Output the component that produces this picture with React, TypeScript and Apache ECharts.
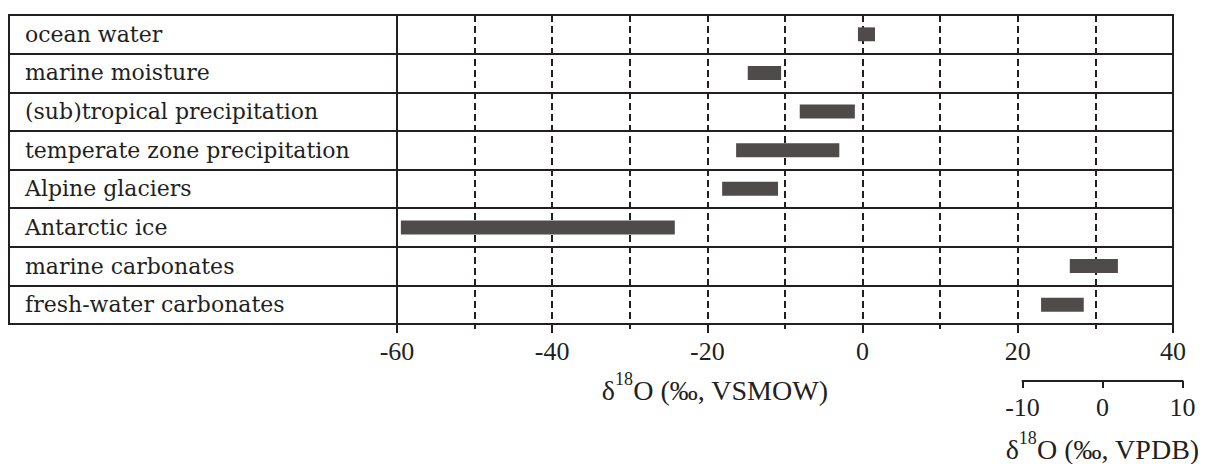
import React, { useEffect, useRef } from "react";
import * as echarts from "echarts";

const categories = [
  "ocean water",
  "marine moisture",
  "(sub)tropical precipitation",
  "temperate zone precipitation",
  "Alpine glaciers",
  "Antarctic ice",
  "marine carbonates",
  "fresh-water carbonates",
];
const rangeLow = [-0.6, -14.8, -8.1, -16.3, -18.1, -59.5, 26.7, 23.0];
const rangeHigh = [1.6, -10.5, -1.0, -3.0, -10.9, -24.2, 32.9, 28.5];

const vsmowMin = -60;
const vsmowMax = 40;
const vsmowStep = 20;
const vpdbMin = -10;
const vpdbMax = 10;
const vpdbStep = 10;

const INK = "#231f20";
const BAR = "#4f4b4a";
const SERIF = "Liberation Serif";

export default function App() {
  const ref = useRef<HTMLDivElement>(null);

  useEffect(() => {
    if (!ref.current) return;
    const chart = echarts.init(ref.current, undefined, { renderer: "svg" });

    const nameRich = {
      a: { fontFamily: SERIF, fontSize: 28, color: INK },
      sup: { fontFamily: SERIF, fontSize: 18, color: INK, padding: [0, 0, 22, 0] },
    };

    const option: any = {
      animation: false,
      backgroundColor: "#ffffff",
      grid: [
        { left: 9, top: 15, width: 388, height: 309, show: true, borderColor: INK, borderWidth: 2, backgroundColor: "transparent" },
        { left: 397, top: 15, width: 776, height: 309, show: true, borderColor: INK, borderWidth: 2, backgroundColor: "transparent" },
        { left: 1022.5, top: 378, width: 160, height: 9, show: false },
      ],
      xAxis: [
        { gridIndex: 0, type: "value", min: 0, max: 1, show: false },
        {
          gridIndex: 1,
          type: "value",
          min: vsmowMin,
          max: vsmowMax,
          interval: vsmowStep,
          position: "bottom",
          axisLine: { show: true, lineStyle: { color: INK, width: 2 } },
          axisTick: { show: true, length: 9, lineStyle: { color: INK, width: 2 } },
          minorTick: { show: true, splitNumber: 2, length: 5, lineStyle: { color: INK, width: 2 } },
          splitLine: { show: true, lineStyle: { color: INK, width: 2, type: [7, 4] } },
          minorSplitLine: { show: true, lineStyle: { color: INK, width: 2, type: [7, 4] } },
          axisLabel: { margin: 14, fontFamily: SERIF, fontSize: 26, color: INK },
          name: "{a|δ}{sup|18}{a|O (‰, VSMOW)}",
          nameLocation: "middle",
          nameGap: 46,
          nameTextStyle: { rich: nameRich, padding: [0, 140, 0, 0] },
        },
        {
          gridIndex: 2,
          type: "value",
          min: vpdbMin,
          max: vpdbMax,
          interval: vpdbStep,
          position: "bottom",
          axisLine: { show: true, lineStyle: { color: INK, width: 2 } },
          axisTick: { show: true, length: 7, lineStyle: { color: INK, width: 2 } },
          splitLine: { show: false },
          axisLabel: { margin: 13, fontFamily: SERIF, fontSize: 26, color: INK },
          name: "{a|δ}{sup|18}{a|O (‰, VPDB)}",
          nameLocation: "middle",
          nameGap: 48,
          nameTextStyle: { rich: nameRich },
        },
      ],
      yAxis: [
        {
          gridIndex: 0,
          type: "category",
          data: categories,
          inverse: true,
          axisLine: { show: false },
          axisTick: { show: false },
          splitLine: { show: true, lineStyle: { color: INK, width: 2 } },
          axisLabel: { inside: true, margin: 16, fontFamily: "DejaVu Serif", fontSize: 22, color: INK },
        },
        {
          gridIndex: 1,
          type: "category",
          data: categories,
          inverse: true,
          axisLine: { show: false },
          axisTick: { show: false },
          axisLabel: { show: false },
          splitLine: { show: true, lineStyle: { color: INK, width: 2 } },
        },
        { gridIndex: 2, type: "value", show: false },
      ],
      series: [
        {
          type: "custom",
          xAxisIndex: 1,
          yAxisIndex: 1,
          encode: { x: [0, 1], y: 2 },
          data: categories.map((c, i) => [rangeLow[i], rangeHigh[i], i]),
          renderItem: (params: any, api: any) => {
            const lo = api.coord([api.value(0), api.value(2)]);
            const hi = api.coord([api.value(1), api.value(2)]);
            const h = api.size([0, 1])[1] * 0.36;
            return {
              type: "rect",
              shape: { x: lo[0], y: lo[1] - h / 2, width: hi[0] - lo[0], height: h },
              style: { fill: BAR },
            };
          },
          z: 5,
        },
      ],
    };

    chart.setOption(option);
    return () => chart.dispose();
  }, []);

  return (
    <div
      ref={ref}
      style={{ position: "fixed", left: 0, top: 0, width: 1205, height: 464, background: "#fff" }}
    />
  );
}
